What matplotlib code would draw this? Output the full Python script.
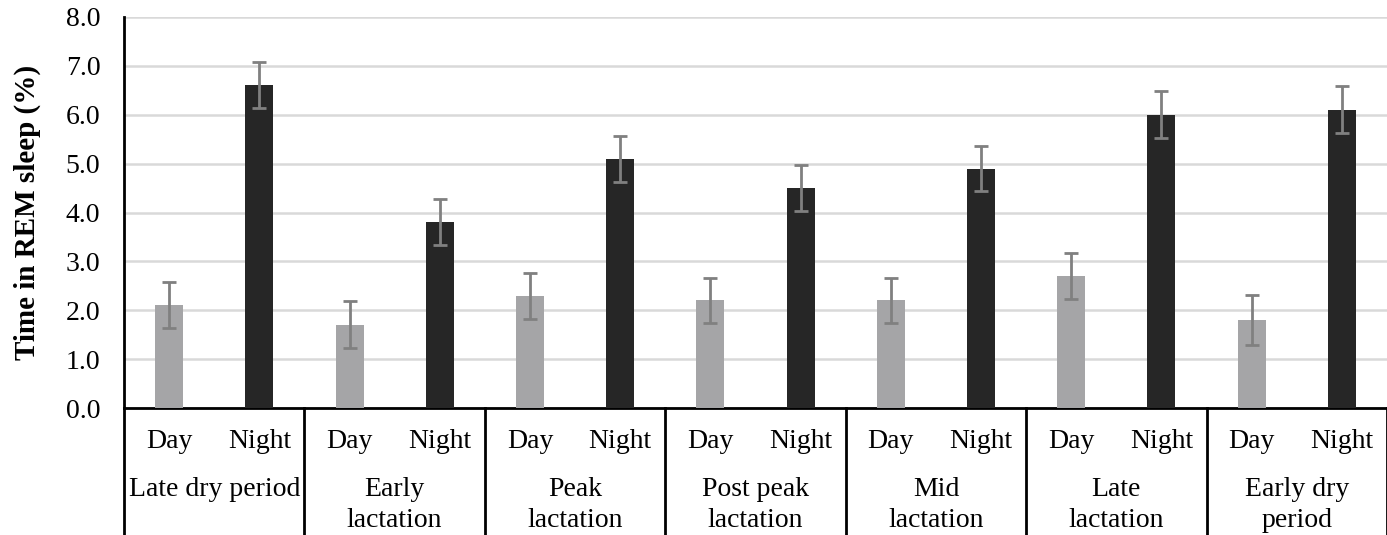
import matplotlib.pyplot as plt
import numpy as np

plt.rcParams['font.family'] = ['Liberation Serif', 'DejaVu Serif']

# Data
groups = ['Late dry period', 'Early\nlactation', 'Peak\nlactation', 'Post peak\nlactation',
          'Mid\nlactation', 'Late\nlactation', 'Early dry\nperiod']
periods = ['Day', 'Night']
day_vals = [2.1, 1.7, 2.3, 2.2, 2.2, 2.7, 1.8]
night_vals = [6.6, 3.8, 5.1, 4.5, 4.9, 6.0, 6.1]
day_err = [0.47, 0.48, 0.47, 0.47, 0.47, 0.47, 0.52]
night_err = [0.47, 0.47, 0.47, 0.47, 0.47, 0.48, 0.48]
yticks = np.arange(0, 8.1, 1.0)

fig = plt.figure(figsize=(13.87, 5.35), dpi=100)
W, H = 1387, 535
ax = fig.add_axes([124 / W, (H - 408) / H, (W - 124) / W, (408 - 17) / H])

n = len(groups)
x_day = np.arange(n) * 2
x_night = x_day + 1
bw = 0.31
err_kw = dict(ecolor='#808080', elinewidth=2, capsize=5, capthick=2)
ax.bar(x_day, day_vals, width=bw, color='#a5a5a7', yerr=day_err, error_kw=err_kw, zorder=3)
ax.bar(x_night, night_vals, width=bw, color='#262626', yerr=night_err, error_kw=err_kw, zorder=3)

ax.set_xlim(-0.5, 2 * n - 0.5)
ax.set_ylim(0, 8)
ax.set_yticks(yticks)
ax.set_yticklabels([f'{v:.1f}' for v in yticks], fontsize=20)
ax.tick_params(axis='y', length=0, pad=17)
ax.set_xticks([])
ax.yaxis.grid(True, color='#d9d9d9', linewidth=1.8, zorder=0)
ax.set_axisbelow(True)
for s in ['top', 'right']:
    ax.spines[s].set_visible(False)
ax.spines['left'].set_linewidth(2)
ax.spines['bottom'].set_linewidth(2)
ax.set_ylabel('Time in REM sleep (%)', fontsize=21, fontweight='bold', labelpad=18)

# multi-level category axis below the plot
trans = ax.get_xaxis_transform()
bottom = -(H - 408) / (408 - 17) - 0.01
for b in np.arange(n + 1) * 2 - 0.5:
    ax.plot([b, b], [0, bottom], color='black', lw=2, transform=trans, clip_on=False)
for i in range(n):
    ax.text(x_day[i], -0.085, periods[0], transform=trans, ha='center', va='center', fontsize=20)
    ax.text(x_night[i], -0.085, periods[1], transform=trans, ha='center', va='center', fontsize=20)
    ax.text(x_day[i] + 0.5, -0.176, groups[i], transform=trans, ha='center', va='top',
            fontsize=20, linespacing=1.3)

fig.savefig('out.png', dpi=100)
